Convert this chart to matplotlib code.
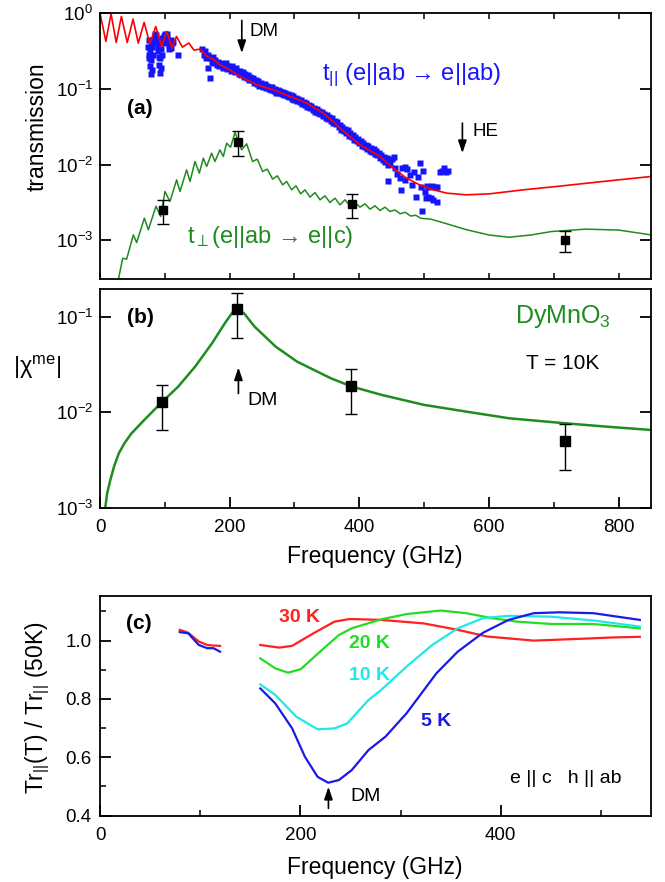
import numpy as np
import matplotlib
matplotlib.use('Agg')
import matplotlib.pyplot as plt
from matplotlib.ticker import FixedLocator, FixedFormatter, MultipleLocator, NullLocator

plt.rcParams['font.family'] = ['Liberation Sans', 'DejaVu Sans']
plt.rcParams['mathtext.fontset'] = 'custom'
plt.rcParams['mathtext.rm'] = 'Liberation Sans'
plt.rcParams['mathtext.it'] = 'Liberation Sans:italic'
plt.rcParams['mathtext.bf'] = 'Liberation Sans:bold'
plt.rcParams['xtick.direction'] = 'in'
plt.rcParams['ytick.direction'] = 'in'

# ---------------- panel (a): transmission (log10 values)
f_red = [0, 9, 17, 25, 33, 42, 51, 59, 68, 77, 86, 95, 103, 111, 118, 127, 137, 145, 154,
         165, 175, 185, 200, 216, 242, 267, 293, 319, 344, 362, 370, 401, 432, 452, 473,
         493, 514, 535, 565, 601, 653, 704, 780, 850]
t_red_log = [0.0, -0.375, -0.01, -0.388, -0.045, -0.388, -0.08, -0.397, -0.124, -0.405,
             -0.177, -0.44, -0.243, -0.462, -0.309, -0.45, -0.396, -0.49, -0.476,
             -0.573, -0.61, -0.683, -0.749, -0.837, -0.947, -1.013, -1.10, -1.189, -1.32,
             -1.45, -1.52, -1.74, -1.894, -2.048, -2.18, -2.268, -2.334, -2.378, -2.40,
             -2.387, -2.334, -2.29, -2.22, -2.158]

f_green = [26, 28.3, 35, 41, 51.4, 56.5, 68.4, 74.5, 86.4, 93.6, 100.2, 107.9, 118.2, 123.4,
           133.6, 138.8, 146.5, 153.2, 159.3, 164.5, 172.2, 177.3, 185, 190.2, 195.3, 201.4,
           208.2, 218.5, 226.2, 235.4, 242.6, 250.8, 258.0, 266.3, 273.5, 281.7, 287.9,
           295.6, 302.3, 309.5, 316.2, 323.9, 331.6, 339.3, 347.0, 354.7, 362.5, 370.2,
           377.9, 385.6, 393.3, 401.0, 408.7, 416.5, 424.2, 431.9, 439.6, 447.3, 455, 463,
           471, 479, 487, 495, 510, 530, 565, 600, 631, 665, 696, 749, 800, 850]
t_green_log = [-3.6, -3.52, -3.236, -3.25, -2.929, -3.03, -2.708, -2.862, -2.55, -2.686,
               -2.356, -2.488, -2.202, -2.356, -2.070, -2.224, -1.960, -2.114, -1.916,
               -2.026, -1.850, -1.960, -1.806, -1.894, -1.718, -1.771, -1.577, -1.806,
               -1.727, -1.960, -1.929, -2.092, -2.061, -2.193, -2.149, -2.268, -2.224,
               -2.334, -2.281, -2.387, -2.334, -2.431, -2.370, -2.466, -2.413, -2.501,
               -2.444, -2.532, -2.466, -2.545, -2.501, -2.563, -2.519, -2.589, -2.545,
               -2.607, -2.563, -2.620, -2.60, -2.65, -2.63, -2.68, -2.67, -2.71, -2.72,
               -2.77, -2.86, -2.93, -2.96, -2.93, -2.885, -2.853, -2.865, -2.929]

f_blue = [74, 75.5, 77, 78.5, 80, 81.5, 83, 84.5, 86, 87.5, 89, 90.5, 92, 93.5, 95, 96.5,
          98, 99.5, 101, 102.5, 104, 105.5, 107, 108.5, 110, 121,
          75, 76, 77.5, 79, 79, 80.5, 82, 85, 88, 90, 91, 93, 94, 96, 100, 103, 106, 109,
          111, 112,
          158, 160, 162, 164, 166, 167, 169, 170, 172, 174, 176, 178, 180, 182, 184, 186,
          188, 190, 192, 194, 196, 198, 200, 202, 204, 206, 208, 210, 212, 214, 216, 218,
          220, 222, 224, 226, 228, 230, 232, 234, 236, 238, 240, 242, 244, 246, 248, 250,
          252, 254, 256, 258, 260, 262, 264, 266, 268, 270, 272, 274, 276, 278, 280, 282,
          284, 286, 288, 290, 292, 294, 296, 298, 300, 302, 304, 306, 308, 310, 312, 314,
          316, 318, 320, 322, 324, 326, 328, 330, 332, 334, 336, 338, 340, 342, 344, 346,
          348, 350, 352, 354, 356, 358, 360, 362, 364, 366, 368, 370, 372, 374, 376, 378,
          380, 382, 384, 386, 388, 390, 392, 394, 396, 398, 400, 402, 404, 406, 408, 410,
          412, 414, 416, 418, 420, 422, 424, 426, 428, 430, 432, 434, 436, 438, 440, 442,
          444, 446, 448, 450, 453,
          444.6, 455, 458, 462.6, 465, 466, 470, 470, 474, 478, 480.6, 485, 487, 491, 493.4,
          495, 497, 498.6, 501, 503, 505, 506.5, 508, 510, 512, 513, 516, 520, 520, 524,
          527, 530, 533, 537]
t_blue_log = [-0.45, -0.55, -0.70, -0.80, -0.75, -0.55, -0.40, -0.30, -0.29, -0.35, -0.50,
              -0.68, -0.79, -0.72, -0.55, -0.40, -0.30, -0.29, -0.31, -0.30, -0.33, -0.38,
              -0.42, -0.40, -0.36, -0.56,
              -0.35, -0.60, -0.50, -0.62, -0.38, -0.45, -0.35, -0.27, -0.38, -0.45, -0.58,
              -0.60, -0.48, -0.33, -0.27, -0.27, -0.48, -0.46, -0.40, -0.38,
              -0.47, -0.55, -0.50, -0.60, -0.56, -0.73, -0.86, -0.60, -0.64, -0.58, -0.66,
              -0.62, -0.68, -0.64, -0.70, -0.66, -0.68, -0.72, -0.70, -0.66, -0.74, -0.70,
              -0.72, -0.76, -0.70, -0.74, -0.78, -0.72, -0.76, -0.80, -0.76, -0.82, -0.78,
              -0.84, -0.80, -0.86, -0.82, -0.88, -0.84, -0.88, -0.86, -0.92, -0.88, -0.94,
              -0.90, -0.96, -0.92, -0.95, -0.98, -0.94, -0.99, -0.96, -1.00, -0.97, -1.02,
              -0.98, -1.03, -1.00, -1.05, -1.02, -1.06, -1.03, -1.07, -1.04, -1.08, -1.05,
              -1.10, -1.07, -1.11, -1.08, -1.13, -1.10, -1.15, -1.12, -1.16, -1.14, -1.18,
              -1.15, -1.20, -1.17, -1.22, -1.19, -1.24, -1.21, -1.26, -1.23, -1.28, -1.25,
              -1.30, -1.27, -1.32, -1.29, -1.33, -1.31, -1.36, -1.33, -1.38, -1.35, -1.40,
              -1.37, -1.42, -1.39, -1.45, -1.42, -1.47, -1.44, -1.50, -1.48, -1.54, -1.51,
              -1.56, -1.53, -1.58, -1.55, -1.62, -1.58, -1.64, -1.61, -1.67, -1.64, -1.69,
              -1.66, -1.72, -1.69, -1.75, -1.71, -1.77, -1.74, -1.80, -1.76, -1.82, -1.78,
              -1.84, -1.80, -1.86, -1.82, -1.88, -1.85, -1.91, -1.88, -1.94, -1.90, -1.97,
              -1.92, -2.00, -1.95, -1.98, -1.93, -1.90,
              -2.22, -2.05, -2.12, -2.18, -2.33, -2.05, -2.03, -2.20, -2.06, -2.14, -2.27,
              -2.10, -2.43, -2.16, -1.98, -2.30, -2.62, -2.09, -2.36, -2.44, -2.29, -2.43,
              -2.30, -2.44, -2.29, -2.47, -2.30, -2.30, -2.49, -2.10, -2.08, -2.04, -2.10,
              -2.08]

f_perp_pts = [96.6, 212.3, 388, 718]
t_perp_pts = [2.5e-3, 2.01e-2, 3.03e-3, 1.0e-3]
t_perp_lo = [1.64e-3, 1.28e-2, 1.96e-3, 7.0e-4]
t_perp_hi = [3.4e-3, 2.73e-2, 4.1e-3, 1.33e-3]

# ---------------- panel (b): |chi_me|
f_chi = [8.1, 11, 15.9, 22, 29, 38, 48.6, 68.3, 96.3, 120.6, 146.7, 172.9, 192.6, 209, 222,
         238.4, 271, 303.8, 356, 388.7, 434.6, 500, 565.5, 630.8, 716, 781, 850]
chi_log = [-3.0, -2.85, -2.709, -2.56, -2.429, -2.32, -2.219, -2.079, -1.886, -1.729, -1.519,
           -1.273, -1.063, -0.905, -0.958, -1.099, -1.309, -1.466, -1.641, -1.729, -1.816,
           -1.921, -1.992, -2.061, -2.113, -2.149, -2.184]
f_chi_pts = [96.3, 212, 387.5, 718]
chi_pts = [0.013, 0.121, 0.019, 0.005]
chi_lo = [0.0065, 0.060, 0.0096, 0.0025]
chi_hi = [0.0195, 0.179, 0.0284, 0.0075]

# ---------------- panel (c): Tr(T)/Tr(50K)
f_low = [79.6, 88, 98.6, 107, 113.3, 119.8]
r30_low = [1.037, 1.027, 0.997, 0.985, 0.983, 0.982]
r5_low = [1.029, 1.025, 0.985, 0.974, 0.974, 0.962]

f30 = [160, 179, 191.7, 213, 234, 249, 280.7, 323, 357, 386.5, 433, 471, 513.5, 538.8]
r30 = [0.985, 0.976, 0.982, 1.025, 1.065, 1.074, 1.071, 1.059, 1.037, 1.014, 1.0, 1.005,
       1.011, 1.013]
f20 = [160, 174.9, 187.6, 200.3, 221.5, 238.4, 251.2, 280.7, 306, 340, 365.4, 391, 416.3,
       450, 492.4, 538.8]
r20 = [0.939, 0.905, 0.890, 0.902, 0.968, 1.019, 1.042, 1.073, 1.091, 1.103, 1.094, 1.077,
       1.065, 1.057, 1.057, 1.042]
f10 = [160, 174.9, 196, 217.2, 234, 246.7, 267.9, 280.7, 306, 331.6, 357, 382.3, 407.8,
       450, 492.4, 538.8]
r10 = [0.850, 0.814, 0.739, 0.696, 0.699, 0.716, 0.796, 0.831, 0.911, 0.985, 1.042, 1.077,
       1.085, 1.082, 1.069, 1.048]
f5 = [160, 174.9, 191.8, 204.5, 217.2, 227.8, 238.4, 251.2, 268, 285, 306, 335.8, 357,
      382.3, 407.8, 433, 458.4, 492.4, 538.8]
r5 = [0.836, 0.785, 0.699, 0.602, 0.533, 0.513, 0.522, 0.556, 0.625, 0.671, 0.751, 0.888,
      0.962, 1.027, 1.071, 1.094, 1.097, 1.094, 1.071]

GREEN = '#1e8c1e'
BLUE = '#1414ff'
TICK_FS = 13.5
LABEL_FS = 16.5

fig = plt.figure(figsize=(6.65, 8.82), dpi=100)
ax_a = fig.add_axes([0.1504, 0.6833, 0.8286, 0.3019])
ax_b = fig.add_axes([0.1504, 0.4244, 0.8286, 0.2480])
ax_c = fig.add_axes([0.1504, 0.0752, 0.8286, 0.2491])

for ax in (ax_a, ax_b, ax_c):
    for sp in ax.spines.values():
        sp.set_linewidth(1.3)

# ---- (a)
ax_a.plot(f_blue, 10 ** np.array(t_blue_log), 's', ms=4.3, color=BLUE, mec='none')
ax_a.plot(f_red, 10 ** np.array(t_red_log), color='red', lw=1.2)
ax_a.plot(f_green, 10 ** np.array(t_green_log), color=GREEN, lw=1.1)
yerr = [np.array(t_perp_pts) - np.array(t_perp_lo), np.array(t_perp_hi) - np.array(t_perp_pts)]
ax_a.errorbar(f_perp_pts, t_perp_pts, yerr=yerr, fmt='s', color='k', ms=5.5,
              capsize=4, elinewidth=1, capthick=1)
ax_a.set_yscale('log')
ax_a.set_xlim(0, 850)
ax_a.set_ylim(3.05e-4, 1)
ax_a.yaxis.set_major_locator(FixedLocator([1, 1e-1, 1e-2, 1e-3]))
ax_a.yaxis.set_major_formatter(FixedFormatter([r'$\mathregular{10^{0}}$', r'$\mathregular{10^{-1}}$',
                                               r'$\mathregular{10^{-2}}$', r'$\mathregular{10^{-3}}$']))
ax_a.yaxis.set_minor_locator(NullLocator())
ax_a.xaxis.set_major_locator(MultipleLocator(100))
ax_a.tick_params(axis='x', which='major', top=True, bottom=True, length=4, width=1.1,
                 labelbottom=False)
ax_a.tick_params(axis='y', which='major', left=True, right=True, length=8, width=1.3,
                 labelsize=TICK_FS, pad=5)

arrow_style = dict(arrowstyle='-|>,head_length=0.5,head_width=0.17', color='k', lw=1.2,
                   shrinkA=0, shrinkB=0, mutation_scale=15)
ax_a.annotate('', xy=(218.7, 0.296), xytext=(218.7, 0.80), arrowprops=arrow_style)
ax_a.text(231, 0.571, 'DM', fontsize=13.5, ha='left', va='center')
ax_a.annotate('', xy=(559, 0.01415), xytext=(559, 0.0352), arrowprops=arrow_style)
ax_a.text(575, 0.0273, 'HE', fontsize=13.5, ha='left', va='center')
ax_a.text(343, 0.153, 't$_{||}$ (e||ab → e||ab)', fontsize=17, color=BLUE, ha='left', va='center')
ax_a.text(133.7, 1.12e-3, 't$_{\\perp}$(e||ab → e||c)', fontsize=17, color=GREEN,
          ha='left', va='center')
ax_a.text(41.6, 0.0556, '(a)', fontsize=15, fontweight='bold', ha='left', va='center')

# ---- (b)
ax_b.plot(f_chi, 10 ** np.array(chi_log), color=GREEN, lw=1.8)
yerr = [np.array(chi_pts) - np.array(chi_lo), np.array(chi_hi) - np.array(chi_pts)]
ax_b.errorbar(f_chi_pts, chi_pts, yerr=yerr, fmt='s', color='k', ms=7.5,
              capsize=4, elinewidth=1, capthick=1)
ax_b.set_yscale('log')
ax_b.set_xlim(0, 850)
ax_b.set_ylim(1e-3, 0.198)
ax_b.yaxis.set_major_locator(FixedLocator([1e-1, 1e-2, 1e-3]))
ax_b.yaxis.set_major_formatter(FixedFormatter([r'$\mathregular{10^{-1}}$', r'$\mathregular{10^{-2}}$',
                                               r'$\mathregular{10^{-3}}$']))
ax_b.yaxis.set_minor_locator(NullLocator())
ax_b.xaxis.set_major_locator(MultipleLocator(200))
ax_b.xaxis.set_minor_locator(MultipleLocator(100))
ax_b.tick_params(axis='x', which='major', length=8, width=1.3, labelsize=TICK_FS, pad=8)
ax_b.tick_params(axis='x', which='minor', length=4, width=1.1)
ax_b.tick_params(axis='y', which='major', left=True, right=True, length=8, width=1.3,
                 labelsize=TICK_FS, pad=5)
ax_b.annotate('', xy=(213.5, 0.0297), xytext=(213.5, 0.0158), arrowprops=arrow_style)
ax_b.text(226.7, 0.0135, 'DM', fontsize=14, ha='left', va='center')
ax_b.text(41.6, 0.1, '(b)', fontsize=15, fontweight='bold', ha='left', va='center')
ax_b.text(640.7, 0.1015, 'DyMnO$_3$', fontsize=18, color=GREEN, ha='left', va='center')
ax_b.text(657, 0.0329, 'T = 10K', fontsize=15, ha='left', va='center')

# ---- (c)
ax_c.plot(f_low, r30_low, color='#ff2020', lw=1.6)
ax_c.plot(f_low, r5_low, color='#1a1ae6', lw=1.6)
ax_c.plot(f30, r30, color='#ff2020', lw=1.6)
ax_c.plot(f20, r20, color='#22dd22', lw=1.6)
ax_c.plot(f10, r10, color='#1ee8e8', lw=1.6)
ax_c.plot(f5, r5, color='#1a1ae6', lw=1.6)
ax_c.set_xlim(0, 550)
ax_c.set_ylim(0.4, 1.153)
ax_c.xaxis.set_major_locator(MultipleLocator(200))
ax_c.xaxis.set_minor_locator(MultipleLocator(100))
ax_c.yaxis.set_major_locator(FixedLocator([0.4, 0.6, 0.8, 1.0]))
ax_c.yaxis.set_major_formatter(FixedFormatter(['0.4', '0.6', '0.8', '1.0']))
ax_c.yaxis.set_minor_locator(FixedLocator([0.5, 0.7, 0.9, 1.1]))
ax_c.tick_params(which='major', length=8, width=1.3, labelsize=TICK_FS)
ax_c.tick_params(which='minor', length=4, width=1.1)
ax_c.tick_params(axis='x', pad=8)
ax_c.tick_params(axis='y', pad=6)
ax_c.text(179, 1.080, '30 K', fontsize=14, fontweight='bold', color='#ff2020', va='center')
ax_c.text(249, 0.989, '20 K', fontsize=14, fontweight='bold', color='#22dd22', va='center')
ax_c.text(249, 0.882, '10 K', fontsize=14, fontweight='bold', color='#1ee8e8', va='center')
ax_c.text(320.7, 0.722, '5 K', fontsize=14, fontweight='bold', color='#1a1ae6', va='center')
ax_c.text(26.4, 1.057, '(c)', fontsize=15, fontweight='bold', va='center')
ax_c.text(409.5, 0.528, 'e || c   h || ab', fontsize=14, va='center')
ax_c.annotate('', xy=(228, 0.499), xytext=(228, 0.425), arrowprops=arrow_style)
ax_c.text(250, 0.465, 'DM', fontsize=14, va='center')

# axis labels
fig.text(0.0556, 0.856, 'transmission', fontsize=LABEL_FS, rotation=90, ha='center', va='center')
fig.text(0.0556, 0.583, '|χ$^{\\mathrm{me}}$|', fontsize=17, ha='center', va='center')
fig.text(0.564, 0.369, 'Frequency (GHz)', fontsize=LABEL_FS, ha='center', va='center')
fig.text(0.057, 0.198, 'Tr$_{||}$(T) / Tr$_{||}$ (50K)', fontsize=LABEL_FS, rotation=90,
         ha='center', va='center')
fig.text(0.564, 0.017, 'Frequency (GHz)', fontsize=LABEL_FS, ha='center', va='center')

fig.savefig('out.png', dpi=100)
